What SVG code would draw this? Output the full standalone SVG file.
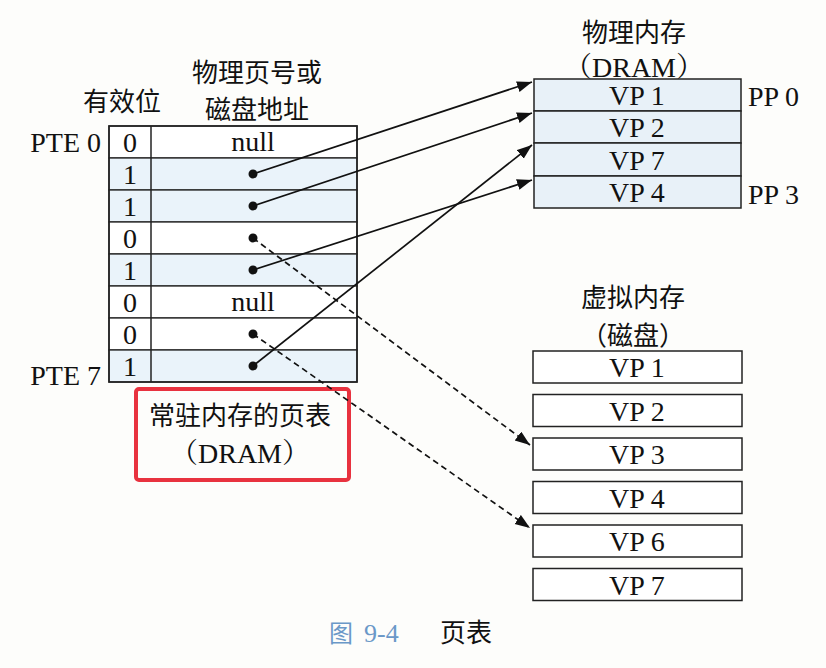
<svg xmlns="http://www.w3.org/2000/svg" width="826" height="668" viewBox="0 0 826 668">
<style>
.t{font-family:"Liberation Serif","Noto Serif CJK SC","Noto Sans CJK SC",serif;font-size:28px;fill:#111;text-anchor:middle}
.c{font-family:"Noto Sans CJK SC",sans-serif;font-size:26px;fill:#111;text-anchor:middle}
.box{fill:#fff;stroke:#222;stroke-width:1.5}
.pbox{fill:#e8f1f8;stroke:#222;stroke-width:1.5}
.row{fill:#fff;stroke:#222;stroke-width:1.3}
.rowv{fill:#eaf3fa;stroke:#222;stroke-width:1.3}
.ln{stroke:#111;stroke-width:1.7;fill:none}
.dash{stroke:#111;stroke-width:1.7;fill:none;stroke-dasharray:6 4}
</style>
<defs>
<marker id="ah" markerUnits="userSpaceOnUse" markerWidth="16" markerHeight="12" refX="15" refY="5.5" orient="auto">
<path d="M0,0 L15,5.5 L0,11 z" fill="#111"/>
</marker>
</defs>
<rect width="826" height="668" fill="#fdfdfb"/>

<g id="page-table">
<text class="c" x="122" y="111">有效位</text>
<text class="c" x="257" y="82">物理页号或</text>
<text class="c" x="257" y="119">磁盘地址</text>
<rect class="row" x="109" y="126" width="248" height="32"/>
<rect class="rowv" x="109" y="158" width="248" height="32"/>
<rect class="rowv" x="109" y="190" width="248" height="32"/>
<rect class="row" x="109" y="222" width="248" height="32"/>
<rect class="rowv" x="109" y="254" width="248" height="32"/>
<rect class="row" x="109" y="286" width="248" height="32"/>
<rect class="row" x="109" y="318" width="248" height="32"/>
<rect class="rowv" x="109" y="350" width="248" height="32"/>
<line x1="151" y1="126" x2="151" y2="382" stroke="#222" stroke-width="1.5"/>
<rect x="109" y="126" width="248" height="256" fill="none" stroke="#222" stroke-width="1.6"/>
<text class="t" x="130" y="152">0</text>
<text class="t" x="130" y="184">1</text>
<text class="t" x="130" y="216">1</text>
<text class="t" x="130" y="248">0</text>
<text class="t" x="130" y="280">1</text>
<text class="t" x="130" y="312">0</text>
<text class="t" x="130" y="344">0</text>
<text class="t" x="130" y="376">1</text>
<text class="t" x="253" y="151">null</text>
<text class="t" x="253" y="311">null</text>
<circle cx="253" cy="174" r="4.5" fill="#111"/>
<circle cx="253" cy="206" r="4.5" fill="#111"/>
<circle cx="253" cy="238" r="4.5" fill="#111"/>
<circle cx="253" cy="270" r="4.5" fill="#111"/>
<circle cx="253" cy="334" r="4.5" fill="#111"/>
<circle cx="253" cy="366" r="4.5" fill="#111"/>
<text class="t" x="101" y="152" style="text-anchor:end">PTE 0</text>
<text class="t" x="101" y="385" style="text-anchor:end">PTE 7</text>
</g>

<g id="caption-box">
<rect x="136" y="389" width="213" height="91" rx="3" fill="none" stroke="#e8323f" stroke-width="4"/>
<text class="c" x="240" y="425">常驻内存的页表</text>
<text class="t" x="240" y="463">（DRAM）</text>
</g>

<g id="physical-memory">
<text class="c" x="634" y="42">物理内存</text>
<text class="t" x="634" y="77">（DRAM）</text>
<rect class="pbox" x="534" y="79" width="207" height="32"/>
<rect class="pbox" x="534" y="111" width="207" height="32"/>
<rect class="pbox" x="534" y="143" width="207" height="33"/>
<rect class="pbox" x="534" y="176" width="207" height="32"/>
<text class="t" x="637" y="105">VP 1</text>
<text class="t" x="637" y="137">VP 2</text>
<text class="t" x="637" y="170">VP 7</text>
<text class="t" x="637" y="202">VP 4</text>
<text class="t" x="748" y="106" style="text-anchor:start">PP 0</text>
<text class="t" x="748" y="204" style="text-anchor:start">PP 3</text>
</g>

<g id="virtual-memory">
<text class="c" x="633" y="307">虚拟内存</text>
<text class="c" x="633" y="345">（磁盘）</text>
<rect class="box" x="533" y="351" width="209" height="32"/>
<rect class="box" x="533" y="394.5" width="209" height="32"/>
<rect class="box" x="533" y="438" width="209" height="32"/>
<rect class="box" x="533" y="481.5" width="209" height="32"/>
<rect class="box" x="533" y="525" width="209" height="32"/>
<rect class="box" x="533" y="568.5" width="209" height="32"/>
<text class="t" x="637" y="377">VP 1</text>
<text class="t" x="637" y="420.5">VP 2</text>
<text class="t" x="637" y="464">VP 3</text>
<text class="t" x="637" y="507.5">VP 4</text>
<text class="t" x="637" y="551">VP 6</text>
<text class="t" x="637" y="594.5">VP 7</text>
</g>

<g id="connectors">
<line class="ln" x1="253" y1="174" x2="532" y2="82" marker-end="url(#ah)"/>
<line class="ln" x1="253" y1="206" x2="532" y2="113" marker-end="url(#ah)"/>
<line class="ln" x1="253" y1="270" x2="532" y2="180" marker-end="url(#ah)"/>
<line class="ln" x1="253" y1="366" x2="532" y2="145" marker-end="url(#ah)"/>
<line class="dash" x1="253" y1="238" x2="530" y2="445" marker-end="url(#ah)"/>
<line class="dash" x1="253" y1="334" x2="530" y2="528" marker-end="url(#ah)"/>
</g>

<g id="figure-caption">
<text x="329" y="642" style="font-family:'Noto Sans CJK SC',sans-serif;font-size:24px;fill:#6a98c8">图</text>
<text x="364" y="642" style="font-family:'Liberation Serif',serif;font-size:26px;fill:#6a98c8">9-4</text>
<text x="440" y="642" style="font-family:'Noto Sans CJK SC',sans-serif;font-size:26px;fill:#111">页表</text>
</g>
</svg>
